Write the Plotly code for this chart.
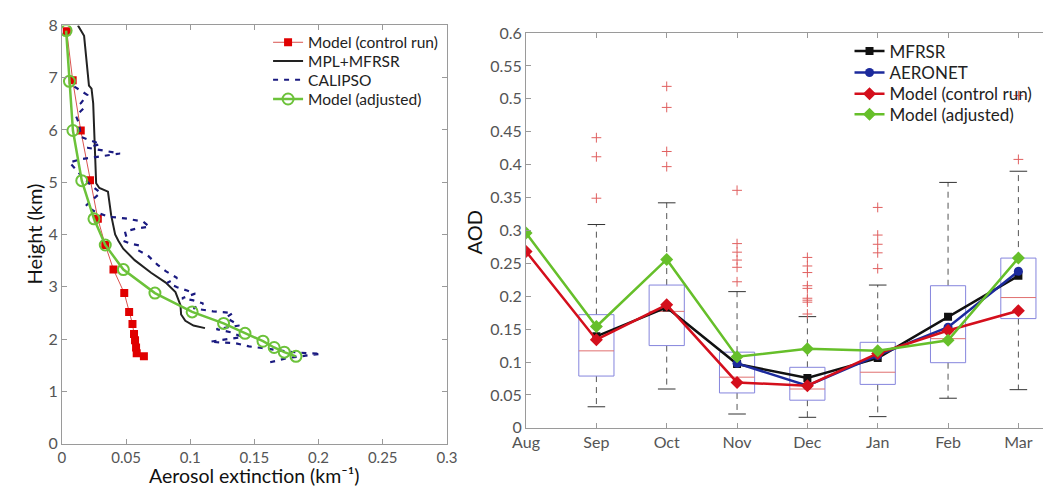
import plotly.graph_objects as go

# ---------------- Left panel data ----------------
ctrl_height = [7.89, 6.95, 5.99, 5.04, 4.30, 3.80, 3.33, 2.88, 2.52, 2.29, 2.10, 1.98, 1.84, 1.73, 1.67]
ctrl_ext = [0.0038, 0.0084, 0.0147, 0.0219, 0.028, 0.0338, 0.0402, 0.0486, 0.0524, 0.055, 0.0562, 0.057, 0.0578, 0.0583, 0.0639]

adj_height = [7.90, 6.93, 5.99, 5.03, 4.30, 3.80, 3.33, 2.88, 2.52, 2.30, 2.11, 1.96, 1.84, 1.75, 1.67]
adj_ext = [0.0033, 0.0059, 0.0086, 0.0155, 0.025, 0.0338, 0.0479, 0.0725, 0.1015, 0.126, 0.1427, 0.1567, 0.1654, 0.1733, 0.1824]

mpl_height = [8.0, 7.80, 6.85, 6.79, 6.51, 5.99, 5.53, 4.98, 4.89, 4.82, 4.37, 4.0, 3.88, 3.73, 3.51, 3.27,
              3.08, 2.90, 2.65, 2.47, 2.35, 2.26, 2.21]
mpl_ext = [0.0125, 0.0173, 0.0211, 0.0231, 0.0244, 0.025, 0.0257, 0.0267, 0.0292, 0.0359, 0.0384, 0.0415,
           0.044, 0.0478, 0.0567, 0.0695, 0.0809, 0.0885, 0.0924, 0.0929, 0.0962, 0.1025, 0.1115]

cal_height = [6.83, 6.67, 6.51, 6.42, 6.27, 6.12, 5.87, 5.78, 5.73, 5.66, 5.55, 5.44, 5.38, 5.10, 4.95, 4.80,
              4.67, 4.55, 4.43, 4.34, 4.31, 4.25, 4.15, 4.12, 4.06, 3.94, 3.88, 3.82, 3.79, 3.70, 3.60, 3.42,
              3.30, 3.17, 3.08, 2.99, 2.93, 2.87, 2.78, 2.74, 2.68, 2.59, 2.53, 2.50, 2.41, 2.26, 2.19, 2.13,
              2.04, 1.98, 1.95, 1.92, 1.86, 1.83, 1.80, 1.76, 1.73, 1.72, 1.64, 1.58, 1.55]
cal_ext = [0.0097, 0.0198, 0.0147, 0.0173, 0.0109, 0.0135, 0.0147, 0.0237, 0.030, 0.0198, 0.0453, 0.0147,
           0.0059, 0.016, 0.0224, 0.030, 0.0237, 0.0186, 0.0262, 0.0364, 0.0491, 0.0631, 0.0682, 0.0593,
           0.0491, 0.0504, 0.0478, 0.0542, 0.0605, 0.0593, 0.0669, 0.0746, 0.0809, 0.0898, 0.0822, 0.0898,
           0.0975, 0.1038, 0.0936, 0.1025, 0.1102, 0.1025, 0.1178, 0.1331, 0.128, 0.1382, 0.1204, 0.1318,
           0.1407, 0.1254, 0.1153, 0.1356, 0.1458, 0.156, 0.1662, 0.1763, 0.1916, 0.2018, 0.1763, 0.1662, 0.161]

ext_ticks = [0, 0.05, 0.1, 0.15, 0.2, 0.25, 0.3]
ext_ticktext = ["0", "0.05", "0.1", "0.15", "0.2", "0.25", "0.3"]
height_ticks = [0, 1, 2, 3, 4, 5, 6, 7, 8]

# ---------------- Right panel data ----------------
months = ["Aug", "Sep", "Oct", "Nov", "Dec", "Jan", "Feb", "Mar"]

box_months = ["Sep", "Oct", "Nov", "Dec", "Jan", "Feb", "Mar"]
box_lower_whisker = [0.032, 0.059, 0.021, 0.016, 0.017, 0.045, 0.058]
box_q1 = [0.0787, 0.125, 0.053, 0.042, 0.066, 0.099, 0.166]
box_median = [0.117, 0.177, 0.077, 0.059, 0.0845, 0.1355, 0.198]
box_q3 = [0.172, 0.217, 0.115, 0.092, 0.130, 0.216, 0.258]
box_upper_whisker = [0.309, 0.342, 0.207, 0.169, 0.217, 0.373, 0.390]
outliers = {
    "Sep": [0.441, 0.412, 0.349],
    "Oct": [0.519, 0.487, 0.42, 0.397],
    "Nov": [0.361, 0.280, 0.267, 0.255, 0.244, 0.222],
    "Dec": [0.259, 0.246, 0.236, 0.216, 0.212, 0.197, 0.194, 0.191, 0.173],
    "Jan": [0.335, 0.293, 0.279, 0.266, 0.242],
    "Feb": [],
    "Mar": [0.505, 0.408],
}

mfrsr_months = ["Sep", "Oct", "Nov", "Dec", "Jan", "Feb", "Mar"]
mfrsr_aod = [0.139, 0.183, 0.097, 0.0757, 0.106, 0.169, 0.231]
aeronet_months = ["Nov", "Dec", "Jan", "Feb", "Mar"]
aeronet_aod = [0.098, 0.064, 0.110, 0.153, 0.238]
ctrl_months = ["Aug", "Sep", "Oct", "Nov", "Dec", "Jan", "Feb", "Mar"]
ctrl_aod = [0.268, 0.134, 0.187, 0.069, 0.064, 0.113, 0.148, 0.178]
adjm_months = ["Aug", "Sep", "Oct", "Nov", "Dec", "Jan", "Feb", "Mar"]
adjm_aod = [0.296, 0.154, 0.256, 0.108, 0.120, 0.117, 0.133, 0.258]

aod_ticks = [0, 0.05, 0.1, 0.15, 0.2, 0.25, 0.3, 0.35, 0.4, 0.45, 0.5, 0.55, 0.6]
aod_ticktext = ["0", "0.05", "0.1", "0.15", "0.2", "0.25", "0.3", "0.35", "0.4", "0.45", "0.5", "0.55", "0.6"]

# ---------------- styles ----------------
W, H = 1053, 495
FONT = "Lato"
BOX_HW = 0.25
CAP_HW = 0.125
mi = {m: i for i, m in enumerate(months)}

fig = go.Figure()

# Left panel traces (each legend entry gets its own legend box for exact row placement)
fig.add_trace(go.Scatter(x=ctrl_ext, y=ctrl_height, mode="lines+markers", name="Model (control run)",
                         line=dict(color="#d9534f", width=1),
                         marker=dict(symbol="square", size=8, color="#e00000"),
                         xaxis="x", yaxis="y", legend="legend"))
fig.add_trace(go.Scatter(x=mpl_ext, y=mpl_height, mode="lines", name="MPL+MFRSR",
                         line=dict(color="#222222", width=2),
                         xaxis="x", yaxis="y", legend="legend3"))
fig.add_trace(go.Scatter(x=cal_ext, y=cal_height, mode="lines", name="CALIPSO",
                         line=dict(color="#1a1a80", width=2.2, dash="5px,6px"),
                         xaxis="x", yaxis="y", legend="legend4"))
fig.add_trace(go.Scatter(x=adj_ext, y=adj_height, mode="lines+markers", name="Model (adjusted)",
                         line=dict(color="#6cc23a", width=2.5),
                         marker=dict(symbol="circle-open", size=11, color="#6cc23a", line=dict(width=2)),
                         xaxis="x", yaxis="y", legend="legend5"))

# Right panel: boxes
bx, by = [], []
wx, wy = [], []
cx, cy = [], []
mx, my = [], []
ox, oy = [], []
for k, m in enumerate(box_months):
    c = mi[m]
    bx += [c - BOX_HW, c + BOX_HW, c + BOX_HW, c - BOX_HW, c - BOX_HW, None]
    by += [box_q1[k], box_q1[k], box_q3[k], box_q3[k], box_q1[k], None]
    wx += [c, c, None, c, c, None]
    wy += [box_q3[k], box_upper_whisker[k], None, box_q1[k], box_lower_whisker[k], None]
    cx += [c - CAP_HW, c + CAP_HW, None, c - CAP_HW, c + CAP_HW, None]
    cy += [box_upper_whisker[k], box_upper_whisker[k], None, box_lower_whisker[k], box_lower_whisker[k], None]
    mx += [c - BOX_HW, c + BOX_HW, None]
    my += [box_median[k], box_median[k], None]
    for v in outliers[m]:
        ox.append(c)
        oy.append(v)

fig.add_trace(go.Scatter(x=wx, y=wy, mode="lines", line=dict(color="#555555", width=1, dash="6px,5px"),
                         showlegend=False, hoverinfo="skip", xaxis="x2", yaxis="y2"))
fig.add_trace(go.Scatter(x=cx, y=cy, mode="lines", line=dict(color="#333333", width=1),
                         showlegend=False, hoverinfo="skip", xaxis="x2", yaxis="y2"))
fig.add_trace(go.Scatter(x=bx, y=by, mode="lines", line=dict(color="#8585dd", width=1),
                         showlegend=False, hoverinfo="skip", xaxis="x2", yaxis="y2"))
fig.add_trace(go.Scatter(x=mx, y=my, mode="lines", line=dict(color="#e07070", width=1),
                         showlegend=False, hoverinfo="skip", xaxis="x2", yaxis="y2"))
fig.add_trace(go.Scatter(x=ox, y=oy, mode="markers",
                         marker=dict(symbol="cross-thin", size=7, line=dict(color="#e06060", width=1)),
                         showlegend=False, hoverinfo="skip", xaxis="x2", yaxis="y2"))

# Right panel: lines
fig.add_trace(go.Scatter(x=[mi[m] for m in mfrsr_months], y=mfrsr_aod, mode="lines+markers", name="MFRSR",
                         line=dict(color="#111111", width=2.5), marker=dict(symbol="square", size=8, color="#111111"),
                         xaxis="x2", yaxis="y2", legend="legend2"))
fig.add_trace(go.Scatter(x=[mi[m] for m in aeronet_months], y=aeronet_aod, mode="lines+markers", name="AERONET",
                         line=dict(color="#1c2a9c", width=2.5), marker=dict(symbol="circle", size=9, color="#1c2a9c"),
                         xaxis="x2", yaxis="y2", legend="legend6"))
fig.add_trace(go.Scatter(x=[mi[m] for m in ctrl_months], y=ctrl_aod, mode="lines+markers", name="Model (control run)",
                         line=dict(color="#d40f1c", width=2.5), marker=dict(symbol="diamond", size=10, color="#d40f1c"),
                         xaxis="x2", yaxis="y2", legend="legend7"))
fig.add_trace(go.Scatter(x=[mi[m] for m in adjm_months], y=adjm_aod, mode="lines+markers", name="Model (adjusted)",
                         line=dict(color="#66bf2a", width=2.5), marker=dict(symbol="diamond", size=10, color="#66bf2a"),
                         xaxis="x2", yaxis="y2", legend="legend8"))


def axis_style(size):
    return dict(showline=True, linecolor="#9a9a9a", linewidth=1, ticks="inside", ticklen=5,
                tickcolor="#9a9a9a", showgrid=False, zeroline=False,
                tickfont=dict(family=FONT, size=size, color="#555555"))


def leg(xpix, ypix, size):
    return dict(x=xpix / W, y=1 - ypix / H, xanchor="left", yanchor="middle", bgcolor="rgba(0,0,0,0)",
                font=dict(family=FONT, size=size, color="#222222"), itemwidth=30)


fig.update_layout(
    width=W, height=H,
    margin=dict(l=0, r=0, t=0, b=0),
    paper_bgcolor="white", plot_bgcolor="white",
    font=dict(family=FONT, size=14, color="#222222"),
    xaxis=dict(domain=[49 / W, 443 / W], range=[0, 0.3], tickvals=ext_ticks, ticktext=ext_ticktext,
               mirror="ticks", anchor="y", **axis_style(15)),
    yaxis=dict(domain=[1 - 451 / H, 1 - 16 / H], range=[0, 8], tickvals=height_ticks,
               mirror="ticks", anchor="x", **axis_style(16)),
    xaxis2=dict(domain=[524 / W, 1.0], range=[0, 7.35], tickvals=list(range(len(months))), ticktext=months,
                mirror="ticks", anchor="y2", **axis_style(16)),
    yaxis2=dict(domain=[1 - 434.5 / H, 1 - 24 / H], range=[0, 0.6], tickvals=aod_ticks, ticktext=aod_ticktext,
                mirror=False, anchor="x2", **axis_style(16)),
    legend=leg(260, 34, 15.5),
    legend3=leg(260, 53.5, 15.5),
    legend4=leg(260, 73, 15.5),
    legend5=leg(260, 93, 15.5),
    legend2=leg(855, 43, 17),
    legend6=leg(855, 65.5, 17),
    legend7=leg(855, 87.5, 17),
    legend8=leg(855, 109, 17),
    annotations=[
        dict(text="Aerosol extinction (km⁻¹)", x=246 / W, y=-3 / H, xref="paper", yref="paper",
             showarrow=False, xanchor="center", yanchor="bottom", font=dict(family=FONT, size=19.5, color="#111111")),
        dict(text="Height (km)", x=21 / W, y=1 - 233 / H, xref="paper", yref="paper", textangle=-90,
             showarrow=False, xanchor="center", yanchor="middle", font=dict(family=FONT, size=20, color="#111111")),
        dict(text="AOD", x=471 / W, y=1 - 231 / H, xref="paper", yref="paper", textangle=-90,
             showarrow=False, xanchor="center", yanchor="middle", font=dict(family=FONT, size=20, color="#111111")),
    ],
)

fig.write_html("out.html")
